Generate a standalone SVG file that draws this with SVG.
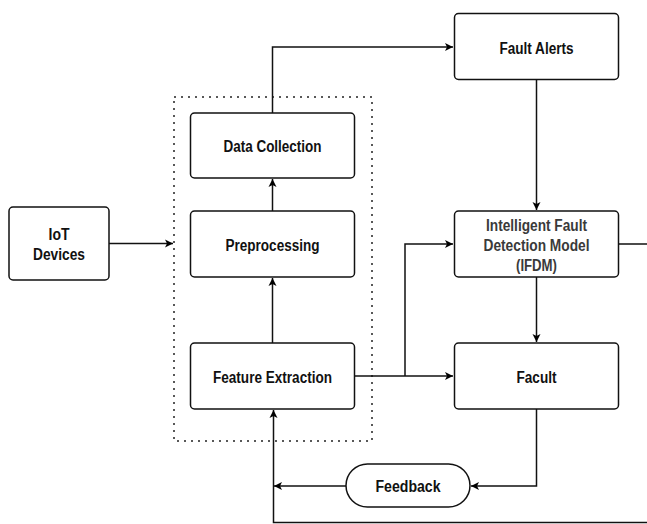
<svg xmlns="http://www.w3.org/2000/svg" width="647" height="524" viewBox="0 0 647 524">
<defs>
<marker id="arr" markerWidth="10" markerHeight="10" refX="9" refY="5" orient="auto" markerUnits="userSpaceOnUse">
<path d="M1,1 L9,5 L1,9 L3,5 Z" fill="#000"/>
</marker>
<style>
.box{fill:#fff;stroke:#111;stroke-width:1.5}
.t{font-family:"Liberation Sans Narrow","Liberation Sans",Arial,sans-serif;font-weight:bold;font-size:16px;fill:#111;text-anchor:middle;dominant-baseline:central}
.g{fill:#3a3a3a}
.c{fill:none;stroke:#111;stroke-width:1.5}
</style>
</defs>
<rect width="647" height="524" fill="#fff"/>
<rect x="174" y="97" width="198" height="344" fill="none" stroke="#222" stroke-width="1.5" stroke-dasharray="2 5"/>
<g id="connectors">
<path class="c" d="M272.5,113 V47 H453" marker-end="url(#arr)"/>
<path class="c" d="M536.5,79 V210" marker-end="url(#arr)"/>
<path class="c" d="M272.5,211 V179" marker-end="url(#arr)"/>
<path class="c" d="M272.5,343 V278" marker-end="url(#arr)"/>
<path class="c" d="M109,243.5 H173" marker-end="url(#arr)"/>
<path class="c" d="M354.5,376 H453" marker-end="url(#arr)"/>
<path class="c" d="M405,376 V244 H453" marker-end="url(#arr)"/>
<path class="c" d="M536.5,277 V342" marker-end="url(#arr)"/>
<path class="c" d="M618.5,244 H650 V522.5 H273.5 V410" marker-end="url(#arr)"/>
<path class="c" d="M536.5,409 V486 H471" marker-end="url(#arr)"/>
<path class="c" d="M346,486 H274" marker-end="url(#arr)"/>
</g>
<g id="iot"><rect class="box" x="9" y="207" width="100" height="73" rx="4"/><text class="t" x="59" y="234" textLength="21" lengthAdjust="spacingAndGlyphs">IoT</text><text class="t" x="59" y="254" textLength="52" lengthAdjust="spacingAndGlyphs">Devices</text></g>
<g id="data-collection"><rect class="box" x="190.5" y="113" width="164" height="65" rx="4"/><text class="t" x="272.5" y="146" textLength="98" lengthAdjust="spacingAndGlyphs">Data Collection</text></g>
<g id="preprocessing"><rect class="box" x="190.5" y="211" width="164" height="66" rx="4"/><text class="t" x="272.5" y="245" textLength="94" lengthAdjust="spacingAndGlyphs">Preprocessing</text></g>
<g id="feature-extraction"><rect class="box" x="190.5" y="343" width="164" height="66" rx="4"/><text class="t" x="272.5" y="377" textLength="119" lengthAdjust="spacingAndGlyphs">Feature Extraction</text></g>
<g id="fault-alerts"><rect class="box" x="454.5" y="13.5" width="164" height="66" rx="4"/><text class="t" x="536.5" y="48" textLength="74" lengthAdjust="spacingAndGlyphs">Fault Alerts</text></g>
<g id="ifdm"><rect class="box" x="454.5" y="211" width="164" height="66" rx="4"/><text class="t g" x="536.5" y="225" textLength="101" lengthAdjust="spacingAndGlyphs">Intelligent Fault</text><text class="t g" x="536.5" y="245" textLength="106" lengthAdjust="spacingAndGlyphs">Detection Model</text><text class="t g" x="536.5" y="265" textLength="41" lengthAdjust="spacingAndGlyphs">(IFDM)</text></g>
<g id="facult"><rect class="box" x="454.5" y="343" width="164" height="66" rx="4"/><text class="t" x="536.5" y="377" textLength="40" lengthAdjust="spacingAndGlyphs">Facult</text></g>
<g id="feedback"><rect class="box" x="346" y="464" width="124" height="43" rx="21.5"/><text class="t" x="408" y="486" textLength="65" lengthAdjust="spacingAndGlyphs">Feedback</text></g>
</svg>
